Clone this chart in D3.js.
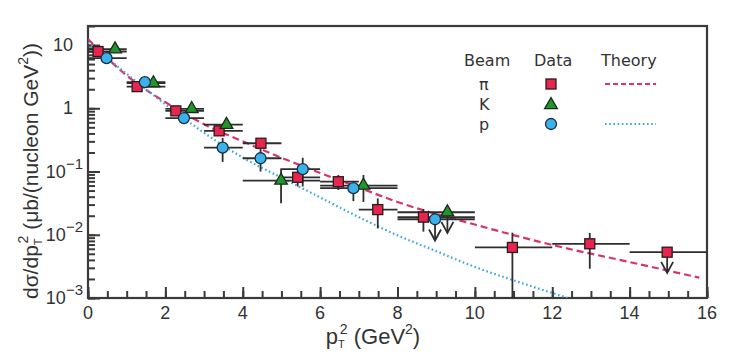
<!DOCTYPE html>
<html>
<head>
<meta charset="utf-8">
<script src="https://cdn.jsdelivr.net/npm/d3@7"></script>
<style>
  body { margin: 0; background: #fff; }
  text { fill: #333; }
</style>
</head>
<body>
<script>
// Chart size
var svgWidth = 735;
var svgHeight = 356;

var margin = { top: 26, right: 28, bottom: 58, left: 88 };
var chartWidth = svgWidth - margin.left - margin.right;
var chartHeight = svgHeight - margin.top - margin.bottom;

// ---- data ----
// pion beam
var pionX = [0.26, 1.27, 2.27, 3.39, 4.47, 5.42, 6.47, 7.49, 8.67, 10.97, 12.97, 14.97];
var pionY = [7.9, 2.2, 0.91, 0.44, 0.28, 0.081, 0.069, 0.025, 0.019, 0.0063, 0.0072, 0.0053];
var pionBinLo = [0, 1, 2, 3, 4, 5, 6, 7, 8, 10, 12, 14];
var pionBinHi = [1, 2, 3, 4, 5, 6, 7, 8, 10, 12, 14, 16];
var pionErrLo = [7.9, 2.2, 0.91, 0.44, 0.28, 0.058, 0.051, 0.0126, 0.0112, 0.0008, 0.0029, 0.0025];
var pionErrHi = [7.9, 2.2, 0.91, 0.44, 0.28, 0.10, 0.088, 0.0376, 0.0255, 0.0108, 0.0107, 0.0053];
var pionLimit = [0, 0, 0, 0, 0, 0, 0, 0, 0, 0, 0, 1];

// kaon beam
var kaonX = [0.70, 1.69, 2.68, 3.58, 4.99, 7.12, 9.29];
var kaonY = [8.6, 2.5, 0.98, 0.55, 0.072, 0.06, 0.0227];
var kaonBinLo = [0, 1, 2, 3, 4, 6, 8];
var kaonBinHi = [1, 2, 3, 4, 6, 8, 10];
var kaonErrLo = [8.6, 2.5, 0.98, 0.55, 0.0316, 0.033, 0.0107];
var kaonErrHi = [8.6, 2.5, 0.98, 0.55, 0.112, 0.088, 0.0227];
var kaonLimit = [0, 0, 0, 0, 0, 0, 1];

// proton beam
var protonX = [0.48, 1.47, 2.48, 3.48, 4.46, 5.55, 6.86, 8.97];
var protonY = [6.2, 2.59, 0.70, 0.239, 0.162, 0.109, 0.0545, 0.0176];
var protonBinLo = [0, 1, 2, 3, 4, 5, 6, 8];
var protonBinHi = [1, 2, 3, 4, 5, 6, 8, 10];
var protonErrLo = [6.2, 2.59, 0.70, 0.142, 0.10, 0.058, 0.034, 0.0081];
var protonErrHi = [6.2, 2.59, 0.70, 0.34, 0.236, 0.165, 0.062, 0.0176];
var protonLimit = [0, 0, 0, 0, 0, 0, 0, 1];

// theory curves
var pionTheoryX = [0, 1, 2, 3, 4, 5, 6, 7, 8, 10, 12, 14, 15.8];
var pionTheoryY = [12.5, 3.3, 1.25, 0.56, 0.30, 0.165, 0.095, 0.056, 0.033, 0.0145, 0.0069, 0.0037, 0.0021];
var protonTheoryX = [0, 1, 2, 3, 4, 5, 6, 7, 8, 9, 10, 11, 12, 12.4];
var protonTheoryY = [11, 3.5, 1.15, 0.41, 0.166, 0.08, 0.039, 0.019, 0.0098, 0.0055, 0.0031, 0.0019, 0.0012, 0.001];

var yTickValues = [10, 1, 0.1, 0.01, 0.001];
var yTickLabels = [["10", ""], ["1", ""], ["10", "\u22121"], ["10", "\u22122"], ["10", "\u22123"]];
var xTickValues = [0, 2, 4, 6, 8, 10, 12, 14, 16];

var legendBeams = ["\u03c0", "K", "p"];

// ---- svg ----
var svg = d3.select("body")
  .append("svg")
  .attr("width", svgWidth)
  .attr("height", svgHeight)
  .style("font-family", "'Liberation Sans', Arial, sans-serif");

var chartGroup = svg.append("g")
  .attr("transform", `translate(${margin.left}, ${margin.top})`);

var xScale = d3.scaleLinear().domain([0, 16]).range([0, chartWidth]);
var yScale = d3.scaleLog().domain([0.001, 20]).range([chartHeight, 0]);

chartGroup.append("clipPath").attr("id", "plotclip")
  .append("rect").attr("width", chartWidth).attr("height", chartHeight);

var axisColor = "#3a3a3a";

// left axis ticks (inward), majors + minors
var yMinor = [];
for (var e = -3; e <= 1; e++) {
  for (var m = 1; m <= 9; m++) {
    var v = m * Math.pow(10, e);
    if (v <= 20) yMinor.push(v);
  }
}
chartGroup.append("g")
  .call(d3.axisLeft(yScale).tickValues(yMinor).tickSize(-7).tickFormat(""))
  .call(g => g.select(".domain").remove())
  .selectAll("line").attr("stroke", axisColor).attr("stroke-width", 2);
chartGroup.append("g")
  .call(d3.axisLeft(yScale).tickValues(yTickValues).tickSize(-12).tickFormat(""))
  .call(g => g.select(".domain").remove())
  .selectAll("line").attr("stroke", axisColor).attr("stroke-width", 2);

// bottom axis ticks (inward)
chartGroup.append("g")
  .attr("transform", `translate(0, ${chartHeight})`)
  .call(d3.axisBottom(xScale).tickValues(d3.range(0, 16.01, 0.5)).tickSize(-7).tickFormat(""))
  .call(g => g.select(".domain").remove())
  .selectAll("line").attr("stroke", axisColor).attr("stroke-width", 2);
chartGroup.append("g")
  .attr("transform", `translate(0, ${chartHeight})`)
  .call(d3.axisBottom(xScale).tickValues(xTickValues).tickSize(-11).tickFormat(""))
  .call(g => g.select(".domain").remove())
  .selectAll("line").attr("stroke", axisColor).attr("stroke-width", 2);

// tick labels
chartGroup.selectAll(".xlab")
  .data(xTickValues)
  .enter().append("text")
  .attr("x", d => xScale(d))
  .attr("y", chartHeight + 21)
  .attr("text-anchor", "middle")
  .style("font-size", "18px")
  .text(d => d);

yTickValues.forEach(function(v, i) {
  var lab = yTickLabels[i];
  var t = chartGroup.append("text")
    .attr("y", yScale(v) + 6)
    .attr("text-anchor", "end")
    .style("font-size", "18px");
  if (lab[1] === "") {
    t.attr("x", -15).text(lab[0]);
  } else {
    t.attr("x", -5);
    t.append("tspan").text(lab[0]);
    t.append("tspan").attr("dy", -9).style("font-size", "15px").text(lab[1]);
  }
});

// frame
chartGroup.append("rect")
  .attr("width", chartWidth)
  .attr("height", chartHeight)
  .attr("fill", "none")
  .attr("stroke", axisColor)
  .attr("stroke-width", 2.2);

// theory curves
var line = d3.line()
  .x(d => xScale(d[0]))
  .y(d => yScale(d[1]))
  .curve(d3.curveMonotoneX);

var pionColor = "#d9336b";
var protonColor = "#3aa9d6";

chartGroup.append("path")
  .datum(d3.zip(pionTheoryX, pionTheoryY))
  .attr("clip-path", "url(#plotclip)")
  .attr("d", line)
  .attr("fill", "none")
  .attr("stroke", pionColor)
  .attr("stroke-width", 2.2)
  .attr("stroke-dasharray", "7,4");

chartGroup.append("path")
  .datum(d3.zip(protonTheoryX, protonTheoryY))
  .attr("clip-path", "url(#plotclip)")
  .attr("d", line)
  .attr("fill", "none")
  .attr("stroke", protonColor)
  .attr("stroke-width", 2.2)
  .attr("stroke-dasharray", "1.6,2.6");

// data points
function buildRows(xv, yv, blo, bhi, elo, ehi, lim) {
  return xv.map((x, i) => ({ x: x, y: yv[i], blo: blo[i], bhi: bhi[i], elo: elo[i], ehi: ehi[i], lim: lim[i] }));
}
var pionRows = buildRows(pionX, pionY, pionBinLo, pionBinHi, pionErrLo, pionErrHi, pionLimit);
var kaonRows = buildRows(kaonX, kaonY, kaonBinLo, kaonBinHi, kaonErrLo, kaonErrHi, kaonLimit);
var protonRows = buildRows(protonX, protonY, protonBinLo, protonBinHi, protonErrLo, protonErrHi, protonLimit);

var errColor = "#2e2e2e";
var errGroup = chartGroup.append("g").attr("clip-path", "url(#plotclip)");

function drawErrors(rows) {
  rows.forEach(function(d) {
    var cx = xScale(d.x), cy = yScale(d.y);
    errGroup.append("line")
      .attr("x1", xScale(d.blo)).attr("x2", xScale(d.bhi))
      .attr("y1", cy).attr("y2", cy)
      .attr("stroke", errColor).attr("stroke-width", 1.8);
    if (d.elo !== d.ehi) {
      errGroup.append("line")
        .attr("x1", cx).attr("x2", cx)
        .attr("y1", yScale(d.ehi)).attr("y2", yScale(d.elo))
        .attr("stroke", errColor).attr("stroke-width", 1.8);
    }
    if (d.lim) {
      var tip = yScale(d.elo);
      errGroup.append("path")
        .attr("d", `M${cx - 6},${tip - 11}L${cx},${tip}L${cx + 6},${tip - 11}`)
        .attr("fill", "none")
        .attr("stroke", errColor).attr("stroke-width", 1.8);
    }
  });
}
drawErrors(pionRows);
drawErrors(kaonRows);
drawErrors(protonRows);

var markerStroke = "#2b1a1a";
var squareFill = "#e8254f";
var triFill = "#22962a";
var circleFill = "#3ab2ec";

function square(g, x, y) {
  g.append("rect").attr("x", x - 5).attr("y", y - 5).attr("width", 10).attr("height", 10)
    .attr("fill", squareFill).attr("stroke", markerStroke).attr("stroke-width", 1.3);
}
function triangle(g, x, y) {
  g.append("path").attr("d", d3.symbol(d3.symbolTriangle, 70)())
    .attr("transform", `translate(${x},${y})`)
    .attr("fill", triFill).attr("stroke", "#1c2a1c").attr("stroke-width", 1.3);
}
function circle(g, x, y) {
  g.append("circle").attr("cx", x).attr("cy", y).attr("r", 5.5)
    .attr("fill", circleFill).attr("stroke", "#1c2e40").attr("stroke-width", 1.3);
}

var markGroup = chartGroup.append("g");
pionRows.forEach(d => square(markGroup, xScale(d.x), yScale(d.y)));
kaonRows.forEach(d => triangle(markGroup, xScale(d.x), yScale(d.y)));
protonRows.forEach(d => circle(markGroup, xScale(d.x), yScale(d.y)));

// legend
var legend = svg.append("g").style("font-family", "'DejaVu Sans', sans-serif").style("font-size", "16px");
legend.append("text").attr("x", 464).attr("y", 66).text("Beam");
legend.append("text").attr("x", 534).attr("y", 66).text("Data");
legend.append("text").attr("x", 601).attr("y", 66).text("Theory");
var rowY = [84, 104, 124];
legendBeams.forEach(function(b, i) {
  legend.append("text").attr("x", 479).attr("y", rowY[i] + 6).text(b);
});
square(legend, 551, rowY[0]);
triangle(legend, 551, rowY[1] + 1);
circle(legend, 551, rowY[2]);
legend.append("line").attr("x1", 605).attr("x2", 656).attr("y1", rowY[0]).attr("y2", rowY[0])
  .attr("stroke", pionColor).attr("stroke-width", 2).attr("stroke-dasharray", "5,3");
legend.append("line").attr("x1", 605).attr("x2", 656).attr("y1", rowY[2]).attr("y2", rowY[2])
  .attr("stroke", protonColor).attr("stroke-width", 2).attr("stroke-dasharray", "1.6,2.6");

// axis titles
var xTitle = svg.append("text")
  .attr("x", 373)
  .attr("y", 344)
  .attr("text-anchor", "middle")
  .style("font-size", "22px");
xTitle.append("tspan").text("p");
xTitle.append("tspan").attr("dy", 4).style("font-size", "11px").text("T");
xTitle.append("tspan").attr("dy", -14).attr("dx", -5).style("font-size", "14px").text("2");
xTitle.append("tspan").attr("dy", 10).text(" (GeV");
xTitle.append("tspan").attr("dy", -10).style("font-size", "14px").text("2");
xTitle.append("tspan").attr("dy", 10).text(")");

var yTitle = svg.append("text")
  .attr("transform", "translate(38, 171) rotate(-90)")
  .attr("text-anchor", "middle")
  .style("font-size", "21px");
yTitle.append("tspan").text("d\u03c3/dp");
yTitle.append("tspan").attr("dy", 4).style("font-size", "11px").text("T");
yTitle.append("tspan").attr("dy", -14).attr("dx", -5).style("font-size", "14px").text("2");
yTitle.append("tspan").attr("dy", 10).text(" (\u03bcb/(nucleon GeV");
yTitle.append("tspan").attr("dy", -10).style("font-size", "14px").text("2");
yTitle.append("tspan").attr("dy", 10).text("))");
</script>
</body>
</html>
